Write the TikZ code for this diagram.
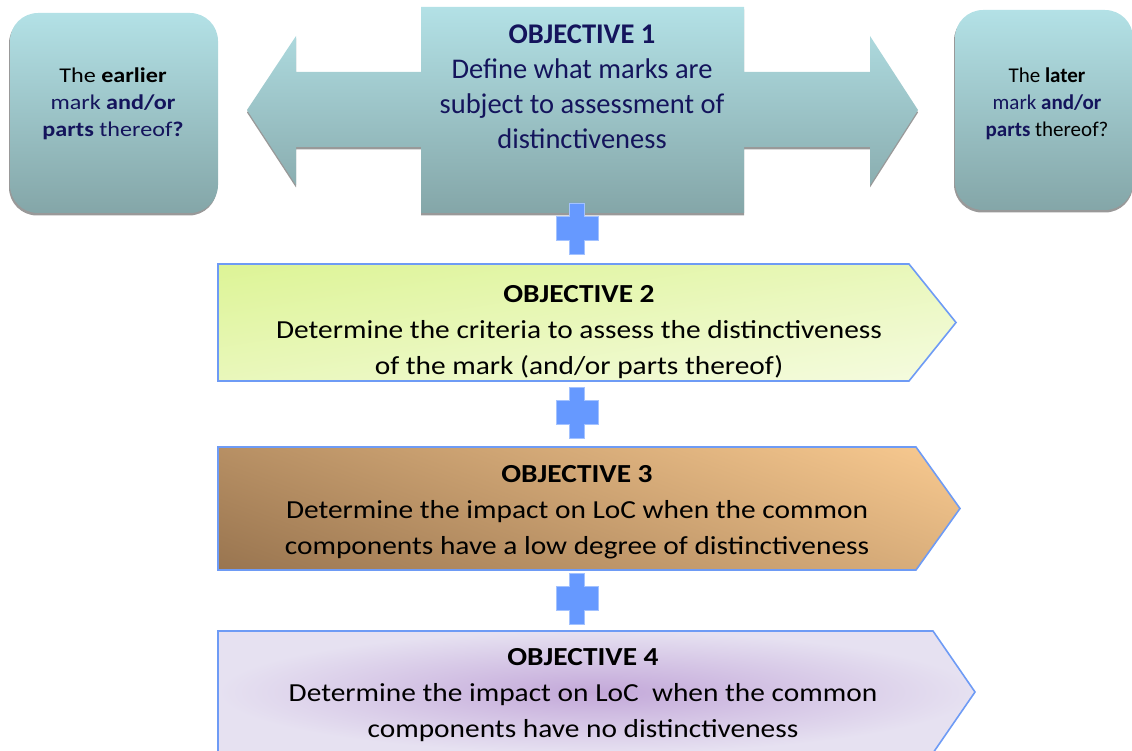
\documentclass[tikz,border=0pt]{standalone}
\usepackage{fontspec}
\setmainfont{Carlito}
\definecolor{navy}{HTML}{14145C}
\definecolor{tealtop}{HTML}{B3E1E6}
\definecolor{tealbot}{HTML}{84A6A8}
\definecolor{shadowgray}{HTML}{999999}
\definecolor{plusblue}{HTML}{6699FF}
\definecolor{edgeblue}{HTML}{6E9BF5}
\definecolor{greenA}{HTML}{DDF496}
\definecolor{greenB}{HTML}{F5FBE0}
\definecolor{orangeA}{HTML}{98744F}
\definecolor{orangeB}{HTML}{FACB91}
\definecolor{lavA}{HTML}{C3A8D9}
\definecolor{lavB}{HTML}{E6E1F1}
\tikzset{
  tealshade/.style={top color=tealtop, bottom color=tealbot},
  objedge/.style={draw=edgeblue, line width=1.6pt},
  sidetext/.style={align=center, inner sep=0pt, font=\fontsize{21}{27}\selectfont},
  objtext/.style={align=center, inner sep=0pt, font=\fontsize{26}{36}\selectfont, xscale=1.13, transform shape},
  plussign/.pic={
    \fill[plusblue, draw=plusblue!60!white, line width=0.8pt]
      (-7.5,-25.5) -- (7.5,-25.5) -- (7.5,-12) -- (21,-12) -- (21,12) -- (7.5,12)
      -- (7.5,25.5) -- (-7.5,25.5) -- (-7.5,12) -- (-21,12) -- (-21,-12) -- (-7.5,-12) -- cycle;
  }
}
\begin{document}
\begin{tikzpicture}[x=1pt,y=-1pt]
\useasboundingbox (0,0) rectangle (1132,751);
% side boxes
\fill[shadowgray, rounded corners=28pt] (9,15.5) rectangle (217,215.5);
\shade[tealshade, rounded corners=28pt] (10,13) rectangle (218,213);
\fill[shadowgray, rounded corners=28pt] (954,12.5) rectangle (1133,212.5);
\shade[tealshade, rounded corners=28pt] (955,10) rectangle (1133,210);
% central double arrow
\fill[shadowgray] (421,9.5) -- (744,9.5) -- (744,74.5) -- (870,74.5) -- (870,38.5) -- (918,112.5)
  -- (870,187.5) -- (870,149.5) -- (744,149.5) -- (744,215.5) -- (421,215.5) -- (421,149.5)
  -- (296,149.5) -- (296,187.5) -- (247,112.5) -- (296,38.5) -- (296,74.5) -- (421,74.5) -- cycle;
\shade[tealshade] (421,7) -- (744,7) -- (744,72) -- (870,72) -- (870,36) -- (918,110)
  -- (870,185) -- (870,147) -- (744,147) -- (744,213) -- (421,213) -- (421,147)
  -- (296,147) -- (296,185) -- (247,110) -- (296,36) -- (296,72) -- (421,72) -- cycle;
% objective 2 arrow
\begin{scope}
  \clip (218,264) -- (909,264) -- (956,322.5) -- (909,381) -- (218,381) -- cycle;
  \begin{scope}[transform canvas={rotate around={9:(587,322.5)}}]
    \shade[top color=greenA, bottom color=greenB] (87,206.9) rectangle (1087,438.1);
  \end{scope}
\end{scope}
\draw[objedge] (218,264) -- (909,264) -- (956,322.5) -- (909,381) -- (218,381) -- cycle;
% objective 3 arrow
\begin{scope}
  \clip (218,447) -- (916,447) -- (960,508.5) -- (916,570) -- (218,570) -- cycle;
  \begin{scope}[transform canvas={rotate around={-20:(589,508.5)}}]
    \shade[top color=orangeB, bottom color=orangeA] (-11,321) rectangle (1189,696);
  \end{scope}
\end{scope}
\draw[objedge] (218,447) -- (916,447) -- (960,508.5) -- (916,570) -- (218,570) -- cycle;
% objective 4 arrow
\shade[inner color=lavA, outer color=lavB]
  (218,631) -- (933,631) -- (975,692) -- (933,753) -- (218,753) -- cycle;
\draw[objedge] (218,631) -- (933,631) -- (975,692) -- (933,753) -- (218,753) -- cycle;
% plus signs
\coordinate (p1) at (577,228.5);
\coordinate (p2) at (577,412.5);
\coordinate (p3) at (577,598.5);
\pic at (p1) {plussign};
\pic at (p2) {plussign};
\pic at (p3) {plussign};
% texts
\node[sidetext, xscale=1.15, transform shape, anchor=north] (lefttext) at (113,68)
  {The \textbf{earlier}\\ \textcolor{navy}{mark \textbf{and/or}}\\ \textcolor{navy}{\textbf{parts} thereof\textbf{?}}};
\node[sidetext, anchor=north] (righttext) at (1047,68)
  {The \textbf{later}\\ \textcolor{navy}{mark \textbf{and/or}}\\ \textcolor{navy}{\textbf{parts}} thereof?};
\node[align=center, inner sep=0pt, anchor=north, text=navy, font=\fontsize{28.5}{35}\selectfont] (obj1) at (582,25)
  {\textbf{OBJECTIVE 1}\\Define what marks are\\subject to assessment of\\distinctiveness};
\node[objtext, anchor=north] (obj2) at (579,285)
  {\textbf{OBJECTIVE 2}\\Determine the criteria to assess the distinctiveness\\of the mark (and/or parts thereof)};
\node[objtext, anchor=north] (obj3) at (577,465)
  {\textbf{OBJECTIVE 3}\\Determine the impact on LoC when the common\\components have a low degree of distinctiveness};
\node[objtext, anchor=north] (obj4) at (583,648)
  {\textbf{OBJECTIVE 4}\\Determine the impact on LoC\ \ when the common\\components have no distinctiveness};
\end{tikzpicture}
\end{document}
